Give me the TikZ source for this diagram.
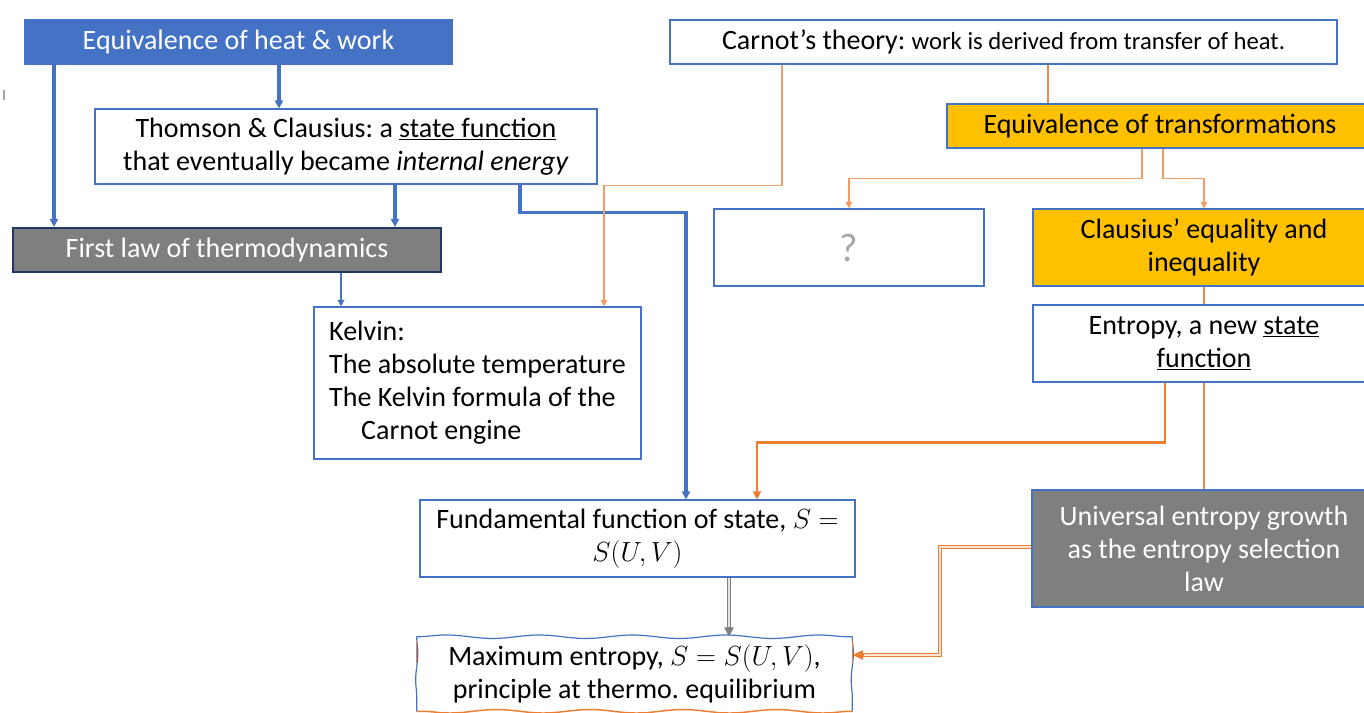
\documentclass[tikz,border=0pt]{standalone}
\usepackage{fontspec}
\setmainfont{Carlito}
\usetikzlibrary{arrows.meta,decorations.pathmorphing}
\definecolor{msblue}{HTML}{4472C4}
\definecolor{navy}{HTML}{203864}
\definecolor{msgray}{HTML}{7F7F7F}
\definecolor{msyellow}{HTML}{FFC000}
\definecolor{msorange}{HTML}{ED7D31}
\definecolor{qgray}{HTML}{A6A6A6}
\frenchspacing
\begin{document}
\begin{tikzpicture}[x=0.75pt,y=-0.75pt,
  font=\fontsize{21}{24.75}\selectfont,
  box/.style={draw=msblue, line width=0.8pt, fill=white, inner sep=0pt, align=center},
  bluebox/.style={box, fill=msblue, text=white},
  graybox/.style={box, fill=msgray, text=white},
  yellowbox/.style={box, fill=msyellow},
  bluethick/.style={draw=msblue, line width=2.4pt},
  bluethin/.style={draw=msblue, line width=1pt},
  orangethin/.style={draw=msorange!75, line width=0.9pt},
  orangemid/.style={draw=msorange!90, line width=1.4pt},
  orangethick/.style={draw=msorange, line width=2.2pt},
  tipb/.style={-{Triangle[length=6pt,width=6pt]}},
  tips/.style={-{Triangle[length=5pt,width=5pt]}},
  dblline/.style={double, double distance=1.6pt, line width=0.7pt},
]
\useasboundingbox (0,0) rectangle (1364,713);
\clip (0,0) rectangle (1364,713);
\fill[white] (0,0) rectangle (1364,713);

% ---- boxes ----
\node[bluebox, minimum width=320.25pt, minimum height=33pt] (eqhw) at (238.5,42) {Equivalence of heat \& work};
\node[box, minimum width=376.5pt, minimum height=56.25pt] (thom) at (346,146.5)
  {Thomson \& Clausius: a \underline{state function}\\that eventually became \textit{internal energy}};
\node[graybox, draw=navy, line width=1.6pt, minimum width=321pt, minimum height=33pt] (first) at (227,250) {First law of thermodynamics};
\node[box, minimum width=245.25pt, minimum height=114pt, align=left] (kel) at (477.5,383)
  {Kelvin:\\The absolute temperature\\The Kelvin formula of the\\\hspace*{24pt}Carnot engine};
\node[box, minimum width=500.25pt, minimum height=33pt] (carnot) at (1003.5,42)
  {Carnot’s theory: {\fontsize{18.5}{22}\selectfont work is derived from transfer of heat.}};
\node[yellowbox, minimum width=319.5pt, minimum height=33pt] (eqtr) at (1160,126) {Equivalence of transformations};
\node[box, minimum width=202.5pt, minimum height=57.75pt, text=qgray, font=\fontsize{30}{32}\selectfont] (q) at (849,247.5) {?};
\node[yellowbox, minimum width=256.5pt, minimum height=57.75pt] (claus) at (1204,247.5) {Clausius’ equality and\\inequality};
\node[box, minimum width=256.5pt, minimum height=57.75pt] (entr) at (1204,343.5) {Entropy, a new \underline{state}\\\underline{function}};
\node[graybox, minimum width=258pt, minimum height=87.75pt] (univ) at (1204,548.5) {Universal entropy growth\\as the entropy selection\\law};
\node[box, minimum width=326.25pt, minimum height=57.75pt] (fund) at (637.5,538.5) {Fundamental function of state, $S=$\\$S(U,V)$};
\node[inner sep=0pt, align=center, minimum width=326.25pt, minimum height=55.5pt] (maxs) at (634.5,674)
  {Maximum entropy, $S=S(U,V)$,\\principle at thermo. equilibrium};

% hand-drawn outline of the last box
\draw[msblue, line width=0.9pt, decorate, decoration={snake, amplitude=1.3pt, segment length=70pt}]
  (maxs.north west) -- (maxs.north east);
\draw[msorange, line width=1.1pt, decorate, decoration={snake, amplitude=1.3pt, segment length=70pt}]
  (maxs.south east) -- (maxs.south west);
\draw[msblue, line width=0.9pt, decorate, decoration={snake, amplitude=0.8pt, segment length=40pt}]
  (maxs.north west) -- (maxs.south west);
\draw[msblue, line width=0.9pt, decorate, decoration={snake, amplitude=0.8pt, segment length=40pt}]
  (maxs.north east) -- (maxs.south east);
\draw[msorange, line width=0.9pt] (maxs.north west) ++(0,4) -- ++(0,22);
\draw[msorange, line width=0.9pt] (maxs.north east) ++(0,4) -- ++(0,22);

% small stray mark at the left edge
\draw[gray!70, line width=0.8pt] (4,90) -- (4,100);

% ---- x positions of the connectors ----
\coordinate (xa) at (54,0);
\coordinate (xb) at (279,0);
\coordinate (xc) at (395,0);
\coordinate (xd) at (520,0);
\coordinate (xe) at (686,0);
\coordinate (xf) at (341,0);
\coordinate (xg) at (782,0);
\coordinate (xh) at (604,0);
\coordinate (xi) at (1048,0);
\coordinate (xj) at (1142,0);
\coordinate (xk) at (1163,0);
\coordinate (xl) at (1165,0);
\coordinate (xm) at (757,0);
\coordinate (xn) at (729,0);
\coordinate (ym) at (0,655);

% ---- connectors ----
\draw[bluethick, tipb] (eqhw.south -| xa) -- (first.north -| xa);
\draw[bluethick, tipb] (eqhw.south -| xb) -- (thom.north -| xb);
\draw[bluethick, tipb] (thom.south -| xc) -- (first.north -| xc);
\draw[bluethick, tipb] (thom.south -| xd) -- ++(0,28) -| (fund.north -| xe);
\draw[bluethin, tips] (first.south -| xf) -- (kel.north -| xf);
\draw[orangethin, tips] (carnot.south -| xg) -- ++(0,121) -| (kel.north -| xh);
\draw[orangemid] (carnot.south -| xi) -- (eqtr.north -| xi);
\draw[orangethin, tips] (eqtr.south -| xj) -- ++(0,30) -| (q.north);
\draw[orangethin, tips] (eqtr.south -| xk) -- ++(0,30) -| (claus.north);
\draw[orangemid] (claus.south) -- (entr.north);
\draw[orangethick, tipb] (entr.south -| xl) -- ++(0,60) -| (fund.north -| xm);
\draw[orangemid] (entr.south) -- (univ.north);
\draw[msorange, dblline, double=msorange!20] (univ.west |- 0,547) -- (940,547) |- ([xshift=8pt]maxs.east |- ym);
\draw[msorange, line width=1.2pt, -{Triangle[length=8pt,width=7pt]}] ([xshift=8.5pt]maxs.east |- ym) -- (maxs.east |- ym);
\draw[gray, dblline, double=gray!20, shorten >=6pt] (fund.south -| xn) -- (maxs.north -| xn);
\draw[gray, line width=1.2pt, -{Triangle[length=7pt,width=7pt]}] ([yshift=7pt]maxs.north -| xn) -- (maxs.north -| xn);
\end{tikzpicture}
\end{document}
